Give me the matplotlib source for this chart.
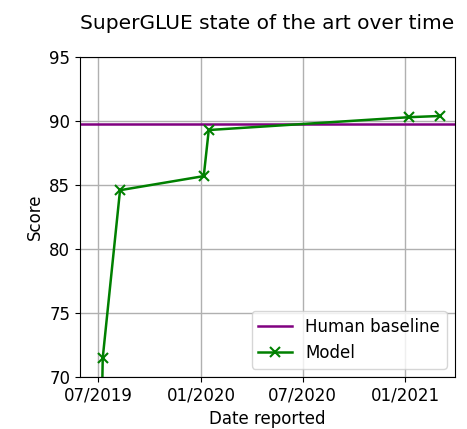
import matplotlib
matplotlib.use("Agg")
import matplotlib.pyplot as plt
import matplotlib.dates as mdates
import numpy as np

dates = ["2019-07-08", "2019-07-09", "2019-08-09", "2020-01-06", "2020-01-15", "2021-01-07", "2021-03-05"]
scores = [69.0, 71.5, 84.6, 85.7, 89.3, 90.3, 90.4]
human_baseline = 89.8
xticks = ["2019-07-01", "2020-01-01", "2020-07-01", "2021-01-01"]

d = np.array(dates, dtype="datetime64[D]")

plt.rcParams['font.size'] = 12
fig = plt.figure(figsize=(4.67, 4.29), dpi=100)
ax = fig.add_axes([0.171, 0.121, 0.803, 0.746])

ax.axhline(human_baseline, color="purple", lw=1.8, label="Human baseline")
ax.plot(d, scores, color="green", marker="x", ms=7, mew=1.5, lw=1.8, label="Model")

ax.set_xlim(np.datetime64("2019-05-29"), np.datetime64("2021-03-31"))
ax.set_ylim(70, 95)
ax.set_xticks(np.array(xticks, dtype="datetime64[D]"))
ax.xaxis.set_major_formatter(mdates.DateFormatter("%m/%Y"))
ax.grid(True, color="#b0b0b0", lw=1)
ax.set_axisbelow(True)
ax.set_xlabel("Date reported")
ax.set_ylabel("Score")
ax.set_title("SuperGLUE state of the art over time", fontsize=14.5, pad=20)
ax.legend(loc="lower right")

fig.savefig("out.png", dpi=100)
